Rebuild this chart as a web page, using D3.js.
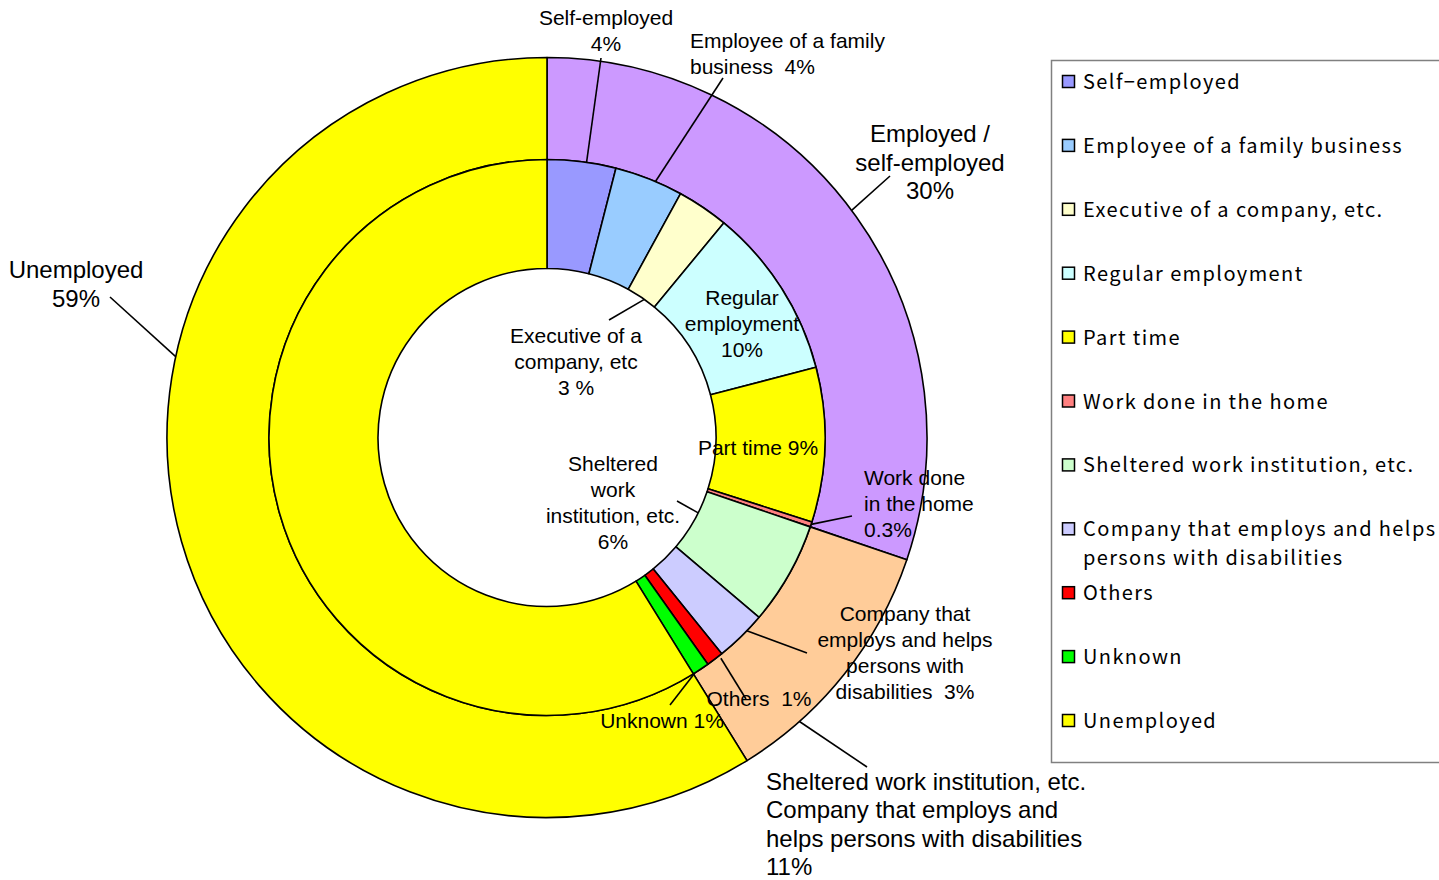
<!DOCTYPE html>
<html>
<head>
<meta charset="utf-8">
<script src="https://cdn.jsdelivr.net/npm/d3@7"></script>
<style>
  html, body { margin: 0; padding: 0; background: #fff; overflow: hidden; }
  svg { display: block; }
</style>
</head>
<body>
<div class="viewbox"></div>
<script>
// inner ring: detailed categories (percent)
const innerCategories = ["Self-employed", "Employee of a family business", "Executive of a company, etc.",
  "Regular employment", "Part time", "Work done in the home", "Sheltered work institution, etc.",
  "Company that employs and helps persons with disabilities", "Others", "Unknown", "Unemployed"];
const innerValues = [4, 4, 3, 10, 9, 0.3, 6, 3, 1, 1, 59];

// outer ring: grouped categories (percent)
const outerCategories = ["Employed / self-employed", "Sheltered work institution, etc. / Company", "Unemployed"];
const outerValues = [30.3, 11, 59];

// legend text (as printed in the chart)
const legendLabels = ["Self\u2212employed", "Employee of a family business", "Executive of a company, etc.",
  "Regular employment", "Part time", "Work done in the home", "Sheltered work institution, etc.",
  "Company that employs and helps\npersons with disabilities", "Others", "Unknown", "Unemployed"];

const innerColors = ["#9999ff", "#99ccff", "#ffffcc", "#ccffff", "#ffff00", "#ff8080",
  "#ccffcc", "#ccccff", "#ff0000", "#00ff00", "#ffff00"];
const outerColors = ["#cc99ff", "#ffcc99", "#ffff00"];

const W = 1439, H = 880;
const cx = 547, cy = 437.5;
const rHole = 169, rMid = 278, rOuter = 380;

const svg = d3.select(".viewbox").append("svg")
  .attr("width", W).attr("height", H)
  .style("font-family", "Arial, 'Liberation Sans', sans-serif");

const pie = d3.pie().sort(null).value(d => d);
const innerArcs = pie(innerValues);
const outerArcs = pie(outerValues);

const arcInner = d3.arc().innerRadius(rHole).outerRadius(rMid);
const arcOuter = d3.arc().innerRadius(rMid).outerRadius(rOuter);

const chart = svg.append("g").attr("transform", `translate(${cx},${cy})`);

chart.selectAll("path.outer")
  .data(outerArcs)
  .enter().append("path")
  .attr("class", "outer")
  .attr("d", arcOuter)
  .attr("fill", (d, i) => outerColors[i])
  .attr("stroke", "#000")
  .attr("stroke-width", 1.6)
  .attr("stroke-linejoin", "round");

chart.selectAll("path.inner")
  .data(innerArcs)
  .enter().append("path")
  .attr("class", "inner")
  .attr("d", arcInner)
  .attr("fill", (d, i) => innerColors[i])
  .attr("stroke", "#000")
  .attr("stroke-width", 1.6)
  .attr("stroke-linejoin", "round");

// point on a slice: frac along its angle, at radius r (relative to the chart centre)
function onSlice(a, frac, r) {
  const ang = a.startAngle + (a.endAngle - a.startAngle) * frac;
  return [cx + r * Math.sin(ang), cy - r * Math.cos(ang)];
}

// data labels: text lines, anchor position, font size, leader line (from -> slice point)
const labels = [
  { lines: ["Self-employed", "4%"], x: 606, y: 25, size: 21, anchor: "middle",
    lead: { from: [601, 58], ring: "inner", i: 0, frac: 0.57, r: rMid } },
  { lines: ["Employee of a family", "business  4%"], x: 690, y: 48, size: 21, anchor: "start",
    lead: { from: [723, 78], ring: "inner", i: 1, frac: 0.6, r: rMid } },
  { lines: ["Employed /", "self-employed", "30%"], x: 930, y: 142, size: 24, lh: 28.5, anchor: "middle",
    lead: { from: [890, 176], ring: "outer", i: 0, frac: 0.49, r: rOuter } },
  { lines: ["Unemployed", "59%"], x: 76, y: 278, size: 24, lh: 29, anchor: "middle",
    lead: { from: [110, 297], ring: "outer", i: 2, frac: 0.633, r: rOuter } },
  { lines: ["Regular", "employment", "10%"], x: 742, y: 305, size: 21, anchor: "middle" },
  { lines: ["Executive of a", "company, etc", "3 %"], x: 576, y: 343, size: 21, anchor: "middle",
    lead: { from: [609, 320], ring: "inner", i: 2, frac: 0.6, r: rHole } },
  { lines: ["Part time 9%"], x: 758, y: 455, size: 21, anchor: "middle" },
  { lines: ["Sheltered", "work", "institution, etc.", "6%"], x: 613, y: 471, size: 21, anchor: "middle",
    lead: { from: [677, 501], ring: "inner", i: 6, frac: 0.36, r: rHole } },
  { lines: ["Work done", "in the home", "0.3%"], x: 864, y: 485, size: 21, anchor: "start",
    lead: { from: [852, 516], ring: "inner", i: 5, frac: 0.5, r: rMid } },
  { lines: ["Company that", "employs and helps", "persons with", "disabilities  3%"], x: 905, y: 621, size: 21, anchor: "middle",
    lead: { from: [807, 653], ring: "inner", i: 7, frac: 0.35, r: rMid } },
  { lines: ["Others  1%"], x: 759, y: 706, size: 21, anchor: "middle",
    lead: { from: [746, 699], ring: "inner", i: 8, frac: 0.2, r: rMid + 3 } },
  { lines: ["Unknown 1%"], x: 662, y: 728, size: 21, anchor: "middle",
    lead: { from: [670, 705], ring: "inner", i: 9, frac: 0.9, r: rMid } },
  { lines: ["Sheltered work institution, etc.", "Company that employs and", "helps persons with disabilities", "11%"],
    x: 766, y: 790, size: 24, lh: 28.3, anchor: "start",
    lead: { from: [867, 767], ring: "outer", i: 1, frac: 0.75, r: rOuter } }
];

const leaders = svg.append("g");
labels.filter(l => l.lead).forEach(l => {
  const arcs = l.lead.ring === "inner" ? innerArcs : outerArcs;
  const to = onSlice(arcs[l.lead.i], l.lead.frac, l.lead.r);
  leaders.append("line")
    .attr("x1", l.lead.from[0]).attr("y1", l.lead.from[1])
    .attr("x2", to[0]).attr("y2", to[1])
    .attr("stroke", "#000").attr("stroke-width", 1.6);
});

const texts = svg.append("g");
labels.forEach(l => {
  const t = texts.append("text")
    .attr("x", l.x).attr("y", l.y)
    .attr("font-size", l.size)
    .attr("text-anchor", l.anchor)
    .attr("fill", "#000")
    .style("white-space", "pre");
  l.lines.forEach((s, k) => {
    t.append("tspan").attr("x", l.x).attr("dy", k === 0 ? 0 : (l.lh || 26)).text(s);
  });
});

// legend
const legend = svg.append("g");
legend.append("rect")
  .attr("x", 1051.5).attr("y", 60.5).attr("width", 400).attr("height", 702)
  .attr("fill", "#fff").attr("stroke", "#808080").attr("stroke-width", 1.5);

const legendY = d3.scalePoint().domain(d3.range(legendLabels.length)).range([82, 721]);

const items = legend.selectAll("g.item")
  .data(legendLabels)
  .enter().append("g")
  .attr("class", "item")
  .attr("transform", (d, i) => `translate(0,${legendY(i)})`);

items.append("rect")
  .attr("x", 1062.5).attr("y", -6.5).attr("width", 12).attr("height", 12)
  .attr("fill", (d, i) => innerColors[i])
  .attr("stroke", "#000").attr("stroke-width", 1.5);

items.append("text")
  .attr("x", 1083).attr("y", 7)
  .style("font-family", "'Noto Sans CJK JP', sans-serif")
  .style("font-size", "20px")
  .style("letter-spacing", "1.4px")
  .attr("fill", "#000")
  .each(function (d) {
    const t = d3.select(this);
    d.split("\n").forEach((s, k) => {
      t.append("tspan").attr("x", 1083).attr("dy", k === 0 ? 0 : 29).text(s);
    });
  });
</script>
</body>
</html>
